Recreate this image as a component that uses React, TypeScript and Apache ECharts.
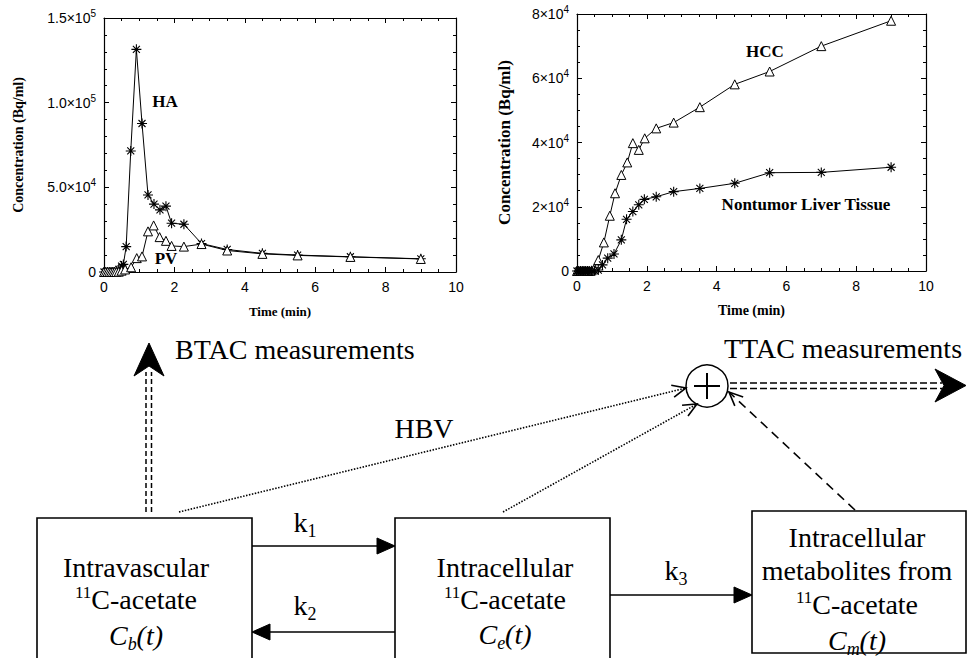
import React, { useEffect, useRef } from 'react';
import * as echarts from 'echarts';

// ---------- data ----------
const TIME_TICKS = [0, 2, 4, 6, 8, 10];

// Left chart (blood curves)
const HA_T = [0, 0.05, 0.1, 0.15, 0.2, 0.25, 0.3, 0.35, 0.42, 0.5, 0.55, 0.63, 0.76, 0.92, 1.08, 1.25, 1.42, 1.59, 1.76, 1.92, 2.27, 2.77, 3.5, 4.5, 5.5, 7, 9];
const HA_V = [0, 0, 0, 0, 0, 0, 0, 500, 1500, 3500, 4500, 15000, 71500, 131500, 87700, 45500, 40100, 36700, 38900, 28800, 28200, 16800, 13300, 11000, 10000, 9000, 7800];
const PV_T = [0, 0.05, 0.1, 0.15, 0.2, 0.25, 0.3, 0.35, 0.42, 0.5, 0.6, 0.77, 0.93, 1.08, 1.25, 1.41, 1.58, 1.76, 1.92, 2.27, 2.77, 3.5, 4.5, 5.5, 7, 9];
const PV_V = [0, 0, 0, 0, 0, 0, 0, 0, 200, 800, 1500, 2800, 8200, 9200, 24000, 27500, 20600, 18400, 15400, 15000, 16500, 12700, 10700, 9800, 8900, 7700];
const LEFT_Y_TICKS = [0, 50000, 100000, 150000];
const LEFT_Y_MANT = ['0', '5.0\u00d710', '1.0\u00d710', '1.5\u00d710'];
const LEFT_Y_EXP = ['', '4', '5', '5'];

// Right chart (tissue curves)
const HCC_T = [0, 0.05, 0.1, 0.15, 0.2, 0.25, 0.3, 0.35, 0.42, 0.5, 0.61, 0.77, 0.94, 1.09, 1.27, 1.44, 1.6, 1.77, 1.94, 2.27, 2.77, 3.52, 4.52, 5.52, 7, 9];
const HCC_V = [0, 0, 0, 0, 0, 0, 0, 0, 200, 800, 3400, 8900, 17200, 24200, 29900, 33800, 39800, 37700, 41300, 44400, 46200, 51000, 58100, 62100, 70000, 77900];
const NT_T = [0, 0.05, 0.1, 0.15, 0.2, 0.25, 0.3, 0.35, 0.42, 0.5, 0.61, 0.73, 0.88, 1.06, 1.27, 1.42, 1.6, 1.77, 1.93, 2.27, 2.77, 3.52, 4.52, 5.52, 7, 9];
const NT_V = [0, 0, 0, 0, 0, 0, 0, 0, 0, 100, 300, 1900, 4000, 5300, 9700, 16100, 18500, 20600, 22300, 23100, 24700, 25700, 27300, 30600, 30700, 32300];
const RIGHT_Y_TICKS = [0, 20000, 40000, 60000, 80000];
const RIGHT_Y_MANT = ['0', '2\u00d710', '4\u00d710', '6\u00d710', '8\u00d710'];
const RIGHT_Y_EXP = ['', '4', '4', '4', '4'];

const SANS = '"Liberation Sans", Arial, sans-serif';
const SERIF = '"Liberation Serif", "Times New Roman", serif';
const ASTERISK = 'path://M5 0 L5 10 M0 5 L10 5 M1.5 1.5 L8.5 8.5 M1.5 8.5 L8.5 1.5';

const zip = (t: number[], v: number[]) => t.map((x, i) => [x, v[i]]);

function yFormatter(ticks: number[], mant: string[], exp: string[]) {
  return (v: number) => {
    const i = ticks.indexOf(v);
    if (i < 0) return '';
    return exp[i] ? `{m|${mant[i]}}{e|${exp[i]}}` : `{m|${mant[i]}}`;
  };
}

const labelRich = {
  m: { fontFamily: SANS, fontSize: 14, lineHeight: 19, color: '#000' },
  e: { fontFamily: SANS, fontSize: 10, lineHeight: 12, verticalAlign: 'top', color: '#000' },
};

function xAxes(gridIndex: number, nameSize: number, nameGap: number) {
  const base = {
    type: 'value', gridIndex, min: 0, max: 10, interval: 2,
    axisLine: { show: true, onZero: false, lineStyle: { color: '#000', width: 1.2 } },
    axisTick: { show: true, inside: true, length: 5, lineStyle: { color: '#000', width: 1 } },
    minorTick: { show: true, splitNumber: 4, length: 3, lineStyle: { color: '#000', width: 1 } },
    splitLine: { show: false },
  };
  return [
    {
      ...base, position: 'bottom',
      axisLabel: {
        color: '#000', fontSize: 14, fontFamily: SANS, margin: 8,
        formatter: (v: number) => (TIME_TICKS.indexOf(v) >= 0 ? String(v) : ''),
      },
      name: 'Time (min)', nameLocation: 'middle', nameGap,
      nameTextStyle: { fontFamily: SERIF, fontWeight: 'bold', fontSize: nameSize, color: '#000' },
    },
    { ...base, position: 'top', axisLabel: { show: false } },
  ];
}

function yAxes(gridIndex: number, max: number, interval: number, minorSplit: number,
  ticks: number[], mant: string[], exp: string[], nameGap: number, nameSize: number) {
  const base = {
    type: 'value', gridIndex, min: 0, max, interval,
    axisLine: { show: true, onZero: false, lineStyle: { color: '#000', width: 1.2 } },
    axisTick: { show: true, inside: true, length: 5, lineStyle: { color: '#000', width: 1 } },
    minorTick: { show: true, splitNumber: minorSplit, length: 3, lineStyle: { color: '#000', width: 1 } },
    splitLine: { show: false },
  };
  return [
    {
      ...base, position: 'left',
      axisLabel: { margin: 8, formatter: yFormatter(ticks, mant, exp), rich: labelRich },
      name: 'Concentration (Bq/ml)', nameLocation: 'middle', nameGap,
      nameTextStyle: { fontFamily: SERIF, fontWeight: 'bold', fontSize: nameSize, color: '#000' },
    },
    { ...base, position: 'right', axisLabel: { show: false } },
  ];
}

function lineSeries(x: number, y: number, data: number[][], marker: 'star' | 'tri') {
  return {
    type: 'line', xAxisIndex: x, yAxisIndex: y, data,
    symbol: marker === 'star' ? ASTERISK : 'triangle',
    symbolSize: marker === 'star' ? 10 : 9,
    lineStyle: { color: '#000', width: 1 },
    itemStyle: marker === 'star'
      ? { color: '#000', borderColor: '#000', borderWidth: 1.1 }
      : { color: '#fff', borderColor: '#000', borderWidth: 1 },
    z: 3,
  };
}

// ---------- diagram helpers ----------
const diagRich: any = {
  n: { fontFamily: SERIF, fontSize: 28, lineHeight: 30, fill: '#000' },
  sup: { fontFamily: SERIF, fontSize: 17, lineHeight: 20, verticalAlign: 'top', fill: '#000' },
  i: { fontFamily: SERIF, fontSize: 28, fontStyle: 'italic', lineHeight: 36, fill: '#000' },
  nk: { fontFamily: SERIF, fontSize: 28, lineHeight: 36, fill: '#000' },
  sub: { fontFamily: SERIF, fontSize: 18, fontStyle: 'italic', lineHeight: 12, verticalAlign: 'bottom', fill: '#000' },
  ks: { fontFamily: SERIF, fontSize: 18, lineHeight: 12, verticalAlign: 'bottom', fill: '#000' },
};

function buildGraphic() {
  const g: any[] = [];
  const txt = (x: number, y: number, text: string, font: string, align = 'center', rich?: any) =>
    g.push({
      type: 'text', x, y, z: 10,
      style: { text, font, fill: '#000', textAlign: align, textVerticalAlign: 'middle', align, verticalAlign: 'middle', rich },
    });
  const line = (x1: number, y1: number, x2: number, y2: number, w = 1.5, dash?: number[]) =>
    g.push({
      type: 'line', z: 10, shape: { x1, y1, x2, y2 },
      style: { stroke: '#000', lineWidth: w, lineDash: dash },
    });
  const poly = (pts: number[][]) =>
    g.push({ type: 'polygon', z: 10, shape: { points: pts }, style: { fill: '#000', stroke: '#000', lineWidth: 1 } });
  const openHead = (sx: number, sy: number, tx: number, ty: number, len = 15, spread = 0.42) => {
    const a = Math.atan2(ty - sy, tx - sx);
    g.push({
      type: 'polyline', z: 10,
      shape: {
        points: [
          [tx - len * Math.cos(a - spread), ty - len * Math.sin(a - spread)],
          [tx, ty],
          [tx - len * Math.cos(a + spread), ty - len * Math.sin(a + spread)],
        ],
      },
      style: { stroke: '#000', lineWidth: 1.6, fill: 'none' },
    });
  };
  const rect = (x: number, y: number, w: number, h: number) =>
    g.push({ type: 'rect', z: 10, shape: { x, y, width: w, height: h }, style: { fill: 'none', stroke: '#000', lineWidth: 1.6 } });

  // chart annotations
  const bold17 = `bold 17px ${SERIF}`;
  txt(165, 101, 'HA', bold17);
  txt(166, 258, 'PV', bold17);
  txt(765, 51, 'HCC', bold17);
  txt(806, 204, 'Nontumor Liver Tissue', bold17);

  // BTAC
  line(146, 512, 146, 372, 1.5, [5, 3]);
  line(151.5, 512, 151.5, 372, 1.5, [5, 3]);
  poly([[149, 343], [164, 376], [149, 366], [134, 376]]);
  txt(175, 349, 'BTAC measurements', `28px ${SERIF}`, 'left');

  // TTAC
  g.push({ type: 'circle', z: 10, shape: { cx: 707, cy: 386, r: 21 }, style: { fill: '#fff', stroke: '#000', lineWidth: 1.5 } });
  line(694, 386, 720, 386, 2);
  line(707, 373, 707, 399, 2);
  line(730, 383, 942, 383, 1.5, [7, 3]);
  line(730, 388.5, 942, 388.5, 1.5, [7, 3]);
  poly([[966, 385.5], [935, 369], [944, 385.5], [935, 402]]);
  txt(724, 348, 'TTAC measurements', `28px ${SERIF}`, 'left');

  // inputs to the sum
  line(179, 512, 686, 388, 1.6, [1.5, 1.5]);
  openHead(179, 512, 686, 388);
  line(503, 512, 697, 404, 1.6, [1.5, 1.5]);
  openHead(503, 512, 697, 404);
  line(855, 510, 729, 392, 1.6, [9, 6]);
  openHead(855, 510, 729, 392);
  txt(424, 428, 'HBV', `28px ${SERIF}`);

  // compartments
  rect(37, 518, 215, 170);
  rect(395, 518, 215, 170);
  rect(752, 511, 214, 142);

  txt(136, 567, '{n|Intravascular}', `28px ${SERIF}`, 'center', diagRich);
  txt(136, 599, '{sup|11}{n|C-acetate}', `28px ${SERIF}`, 'center', diagRich);
  txt(136, 635, '{i|C}{sub|b}{i|(t)}', `28px ${SERIF}`, 'center', diagRich);

  txt(505, 567, '{n|Intracellular}', `28px ${SERIF}`, 'center', diagRich);
  txt(505, 599, '{sup|11}{n|C-acetate}', `28px ${SERIF}`, 'center', diagRich);
  txt(505, 634, '{i|C}{sub|e}{i|(t)}', `28px ${SERIF}`, 'center', diagRich);

  txt(857, 537, '{n|Intracellular}', `28px ${SERIF}`, 'center', diagRich);
  txt(857, 570, '{n|metabolites from}', `28px ${SERIF}`, 'center', diagRich);
  txt(857, 604, '{sup|11}{n|C-acetate}', `28px ${SERIF}`, 'center', diagRich);
  txt(857, 640, '{i|C}{sub|m}{i|(t)}', `28px ${SERIF}`, 'center', diagRich);

  // rate arrows
  line(252, 546, 380, 546, 1.6);
  poly([[395, 546], [377, 538], [377, 554]]);
  txt(305, 522, '{nk|k}{ks|1}', `28px ${SERIF}`, 'center', diagRich);

  line(395, 632, 268, 632, 1.6);
  poly([[252, 632], [270, 624], [270, 640]]);
  txt(305, 605, '{nk|k}{ks|2}', `28px ${SERIF}`, 'center', diagRich);

  line(610, 595, 737, 595, 1.6);
  poly([[752, 595], [734, 587], [734, 603]]);
  txt(676, 570, '{nk|k}{ks|3}', `28px ${SERIF}`, 'center', diagRich);

  return g;
}

export default function App() {
  const ref = useRef<HTMLDivElement>(null);
  useEffect(() => {
    if (!ref.current) return;
    const chart = echarts.init(ref.current, undefined, { renderer: 'svg' });
    chart.setOption({
      animation: false,
      backgroundColor: '#fff',
      grid: [
        { left: 104, top: 18, width: 352, height: 254 },
        { left: 577, top: 14, width: 349, height: 257 },
      ],
      xAxis: [...xAxes(0, 13, 33), ...xAxes(1, 14, 32)],
      yAxis: [
        ...yAxes(0, 150000, 50000, 5, LEFT_Y_TICKS, LEFT_Y_MANT, LEFT_Y_EXP, 79, 14),
        ...yAxes(1, 80000, 20000, 4, RIGHT_Y_TICKS, RIGHT_Y_MANT, RIGHT_Y_EXP, 64, 17),
      ],
      series: [
        lineSeries(0, 0, zip(HA_T, HA_V), 'star'),
        lineSeries(0, 0, zip(PV_T, PV_V), 'tri'),
        lineSeries(2, 2, zip(HCC_T, HCC_V), 'tri'),
        lineSeries(2, 2, zip(NT_T, NT_V), 'star'),
      ],
      graphic: buildGraphic(),
    });
    return () => chart.dispose();
  }, []);
  return <div ref={ref} style={{ position: 'absolute', left: 0, top: 0, width: 968, height: 658 }} />;
}
